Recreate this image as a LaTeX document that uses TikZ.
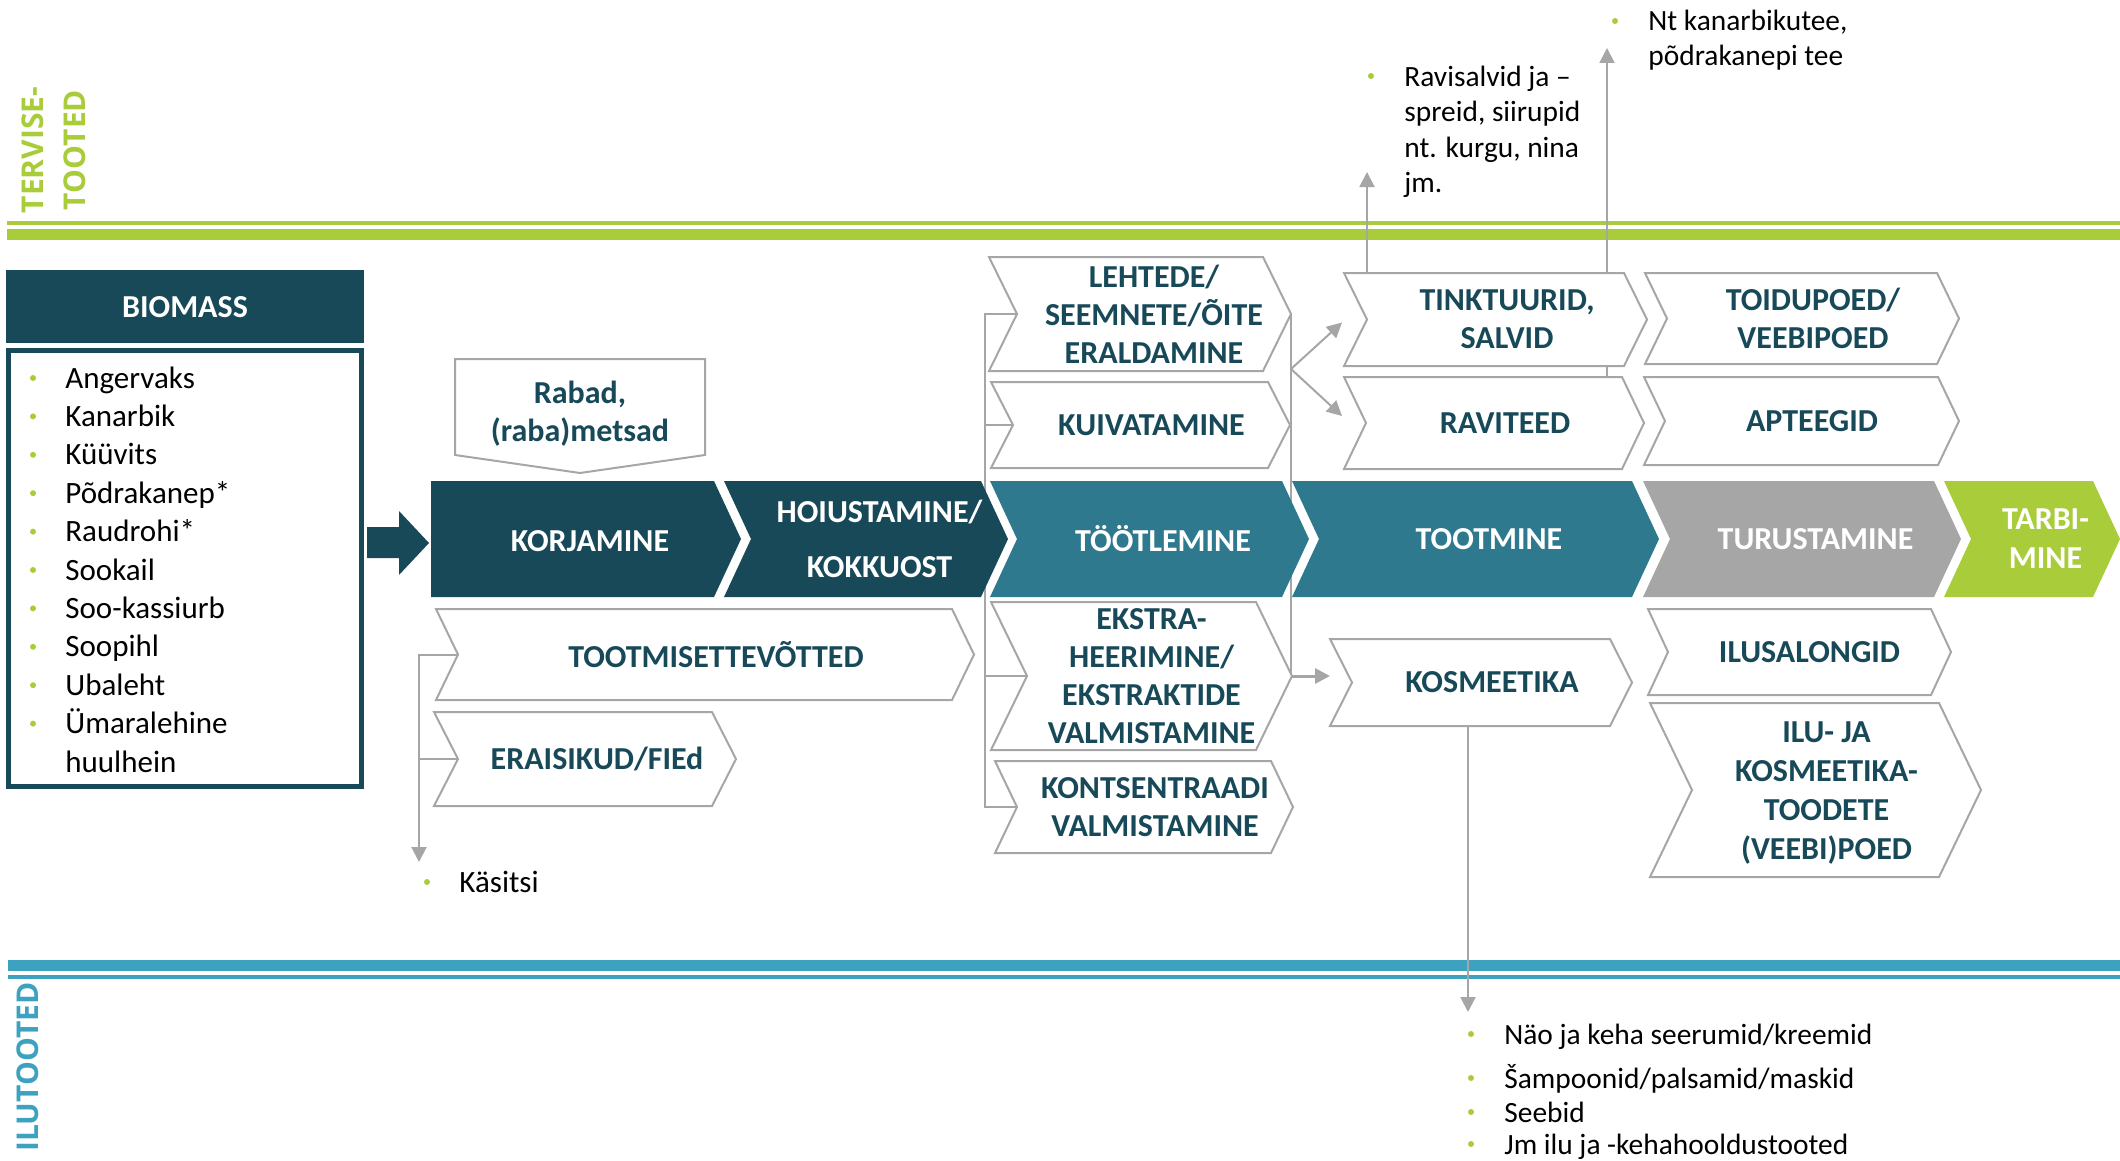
\documentclass[tikz,border=0pt]{standalone}
\usepackage{fontspec}
\setmainfont{Carlito}
\newfontfamily\headfont{Open Sans}
\usepackage{tikz}
\usepackage{xcolor}
\usetikzlibrary{calc}
\usetikzlibrary{arrows.meta}

\definecolor{dkteal}{HTML}{174959}
\definecolor{mdteal}{HTML}{2E798D}
\definecolor{chgray}{HTML}{A6A6A6}
\definecolor{lgreen}{HTML}{A9CC3B}
\definecolor{lblue}{HTML}{3DA2C0}

\pgfdeclarelayer{bg}
\pgfsetlayers{bg,main}

\tikzset{
	outbox/.style={draw=chgray, fill=white, line width=1pt},
	mainbox/.style={draw=none, fill=#1},
	boxtext/.style={text=dkteal, font=\bfseries\fontsize{16}{19}\selectfont, align=center, inner sep=0pt},
	maintext/.style={text=white, font=\bfseries\fontsize{16}{27.5}\selectfont, align=center, inner sep=0pt},
	headtext/.style={font=\headfont\bfseries\fontsize{15}{21}\selectfont, align=center, inner sep=0pt, rotate=90},
	listtext/.style={anchor=west, inner sep=0pt, text height=10pt, text depth=0pt, font=\fontsize{15.5}{19}\selectfont},
	smalllist/.style={listtext, font=\fontsize{14.7}{18}\selectfont},
	dot/.style={circle, fill=lgreen, inner sep=0pt, minimum size=3pt},
	conn/.style={draw=chgray, line width=1pt},
	arr/.style={conn, -{Triangle[length=7.5pt, width=7.5pt]}},
}

\newcommand{\chev}[9]{%
	\pgfmathsetmacro{\chvmid}{(#6+#7)/2}%
	\pgfmathsetmacro{\chvin}{#4+#8}%
	\pgfmathsetmacro{\chvout}{#5+#8}%
	\pgfmathsetmacro{\chvtxt}{(\chvin+\chvout)/2}%
	\filldraw[#2] (#4,#6) -- (#5,#6) -- (\chvout,\chvmid) -- (#5,#7) -- (#4,#7) -- (\chvin,\chvmid) -- cycle;
	\coordinate (#1-in) at (\chvin,\chvmid);
	\coordinate (#1-out) at (\chvout,\chvmid);
	\coordinate (#1-w) at (#4,\chvmid);
	\coordinate (#1-n) at (\chvin,#6);
	\node[#3] (#1) at (\chvtxt,\chvmid) {#9};
}

\begin{document}
\begin{tikzpicture}[x=0.5pt, y=-0.5pt]
		\useasboundingbox (0,0) rectangle (2120,1161);
		\begin{pgfonlayer}{bg}
			\fill[lgreen] (7,221) rectangle (2120,225);
			\fill[lgreen] (7,229) rectangle (2120,240);
			\fill[lblue] (8,960) rectangle (2120,971);
			\fill[lblue] (8,975) rectangle (2120,979);
		\end{pgfonlayer}
		\node[headtext, text=lgreen] (terv) at (54,150) {TERVISE-\\TOOTED};
		\node[headtext, text=lblue] (ilut) at (27.5,1067) {ILUTOOTED};

		\filldraw[mainbox=dkteal] (6,270) rectangle (364,343);
		\node[maintext] (biomass) at (185,307) {BIOMASS};
		\draw[dkteal, line width=2.5pt] (8.5,350.5) rectangle (361.5,786.5);
		\foreach \plant [count=\i from 0] in {Angervaks,Kanarbik,Küüvits,Põdrakanep*,Raudrohi*,Sookail,Soo-kassiurb,Soopihl,Ubaleht,Ümaralehine}{
			\node[dot] (bd\i) at (33,{378+38.4*\i}) {};
			\node[listtext] (bio\i) at (65,{378+38.4*\i}) {\plant};
		}
		\node[listtext] (bio10) at (65,762) {huulhein};

		\filldraw[mainbox=dkteal] (367,527) -- (399,527) -- (399,511) -- (429,543) -- (399,575) -- (399,558) -- (367,558) -- cycle;
		\filldraw[mainbox=dkteal] (431,481) -- (714,481) -- (741,539) -- (714,597) -- (431,597) -- cycle;
		\node[maintext] (korj) at (590,541) {KORJAMINE};
		\chev{hoiu}{mainbox=dkteal}{maintext}{724}{981}{481}{597}{27}{HOIUSTAMINE/\\KOKKUOST}
		\chev{tootl}{mainbox=mdteal}{maintext}{990}{1282}{481}{597}{27}{TÖÖTLEMINE}
		\chev{tootm}{mainbox=mdteal}{maintext}{1292}{1632}{481}{597}{27}{TOOTMINE}
		\chev{turu}{mainbox=chgray}{maintext}{1643}{1934}{481}{597}{27}{TURUSTAMINE}
		\chev{tarb}{mainbox=lgreen}{maintext, font=\bfseries\fontsize{16}{19.5}\selectfont}{1944}{2093}{481}{597}{27}{TARBI-\\MINE}

		\filldraw[outbox] (455,359) -- (705,359) -- (705,455) -- (580,473) -- (455,455) -- cycle;
		\node[boxtext] (rabad) at (580,414) {Rabad,\\(raba)metsad};

		\chev{leht}{outbox}{boxtext}{989}{1263}{257}{371}{28}{LEHTEDE/\\SEEMNETE/ÕITE\\ERALDAMINE}
		\chev{kuiv}{outbox}{boxtext}{991}{1268}{382}{468}{22}{KUIVATAMINE}
		\chev{tink}{outbox}{boxtext}{1344}{1624}{273}{366}{23}{TINKTUURID,\\SALVID}
		\chev{ravi}{outbox}{boxtext}{1344}{1622}{377}{469}{22}{RAVITEED}
		\chev{toid}{outbox}{boxtext}{1645}{1937}{273}{364}{22}{TOIDUPOED/\\VEEBIPOED}
		\chev{apte}{outbox}{boxtext}{1644}{1938}{377}{465}{21}{APTEEGID}
		\chev{ettev}{outbox}{boxtext}{436}{952}{609}{700}{22}{TOOTMISETTEVÕTTED}
		\chev{erai}{outbox}{boxtext}{434}{712}{712}{806}{24}{ERAISIKUD/FIEd}
		\chev{ekst}{outbox}{boxtext, xshift=-4pt}{991}{1256}{602}{750}{36}{EKSTRA-\\HEERIMINE/\\EKSTRAKTIDE\\VALMISTAMINE}
		\chev{kont}{outbox}{boxtext}{995}{1271}{761}{853}{22}{KONTSENTRAADI\\VALMISTAMINE}
		\chev{kosm}{outbox}{boxtext}{1330}{1610}{639}{726}{22}{KOSMEETIKA}
		\chev{ilus}{outbox}{boxtext}{1648}{1931}{609}{695}{20}{ILUSALONGID}
		\chev{iluk}{outbox}{boxtext, font=\bfseries\fontsize{16}{19.5}\selectfont, xshift=-5pt, yshift=-1.5pt}{1650}{1939}{703}{877}{42}{ILU- JA\\KOSMEETIKA-\\TOODETE\\(VEEBI)POED}

		\coordinate (busL) at (985,0);
		\coordinate (fork) at (1291,369);
		\coordinate (kasitip) at (419,862);
		\coordinate (ravtip) at (1367,172);
		\coordinate (ravitop) at (1607,377);
		\coordinate (teetip) at (1607,48);
		\coordinate (kosmbot) at (1468,726);
		\coordinate (kosmtip) at (1468,1012);
		\begin{pgfonlayer}{bg}
			\draw[arr] (ettev-in) -| (kasitip);
			\draw[conn] (erai-in) -- (erai-in -| kasitip);
			\draw[conn] (leht-in) -- (leht-in -| busL) -- (kont-in -| busL) -- (kont-in);
			\draw[conn] (kuiv-in) -- (kuiv-in -| busL);
			\draw[conn] (ekst-in) -- (ekst-in -| busL);
			\draw[conn] (leht-out) -- (leht-out |- ekst-out);
			\draw[arr, line width=1.5pt] (ekst-out) -- (ekst-out -| kosm-w);
			\draw[arr] (fork) -- ($(tink-w)+(-2,3)$);
			\draw[arr] (fork) -- ($(ravi-w)+(-2,-7)$);
			\draw[arr] (tink-n) -- (ravtip);
			\draw[arr] (ravitop) -- (teetip);
			\draw[arr] (kosmbot) -- (kosmtip);
		\end{pgfonlayer}

		\node[dot] (rd) at (1371,76) {};
		\node[smalllist] (rav1) at (1404,76.5) {Ravisalvid ja –};
		\node[smalllist] (rav2) at (1404,111.8) {spreid, siirupid};
		\node[smalllist] (rav3) at (1404,147) {nt. kurgu, nina};
		\node[smalllist] (rav4) at (1404,182.4) {jm.};
		\node[dot] (td) at (1615,21) {};
		\node[smalllist] (tee1) at (1648,21) {Nt kanarbikutee,};
		\node[smalllist] (tee2) at (1648,56) {põdrakanepi tee};
		\node[dot] (kd) at (427,882) {};
		\node[listtext] (kasitsi) at (459,882.5) {Käsitsi};
		\node[dot] (ud1) at (1471,1034) {};
		\node[smalllist] (ilu1) at (1504,1034) {Näo ja keha seerumid/kreemid};
		\node[dot] (ud2) at (1471,1078) {};
		\node[smalllist] (ilu2) at (1504,1078) {Šampoonid/palsamid/maskid};
		\node[dot] (ud3) at (1471,1112) {};
		\node[smalllist] (ilu3) at (1504,1112) {Seebid};
		\node[dot] (ud4) at (1471,1144) {};
		\node[smalllist] (ilu4) at (1504,1144) {Jm ilu ja -kehahooldustooted};
	\end{tikzpicture}
\end{document}
